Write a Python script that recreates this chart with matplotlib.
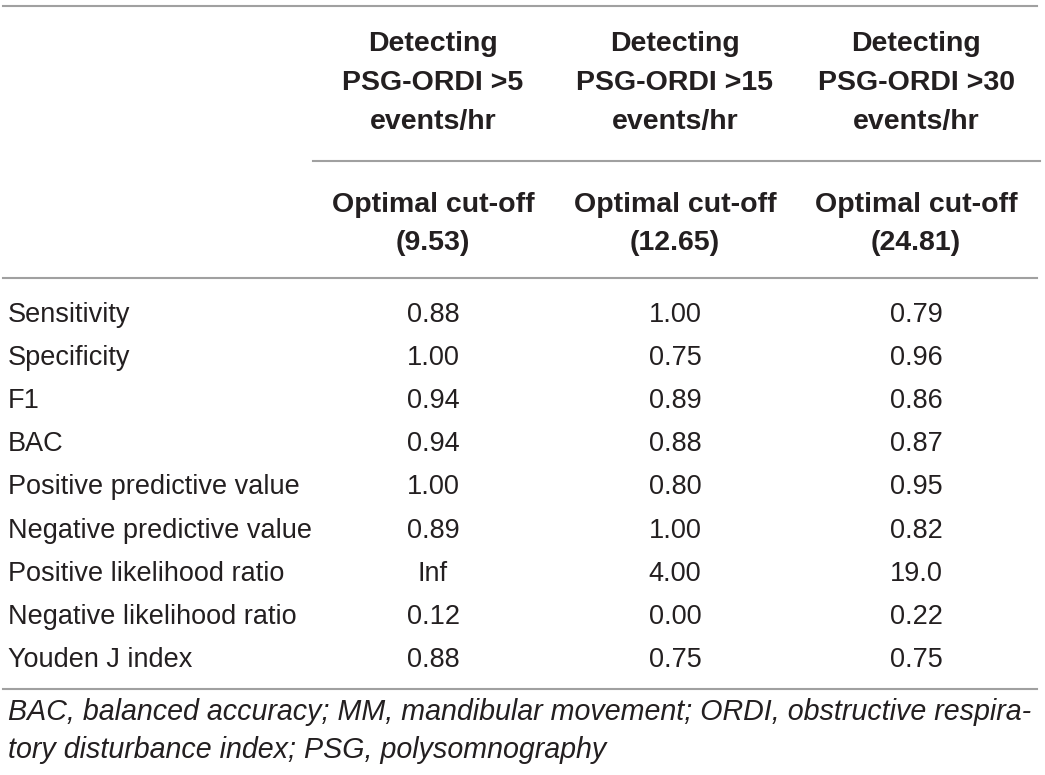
import matplotlib.pyplot as plt

# Dati della tabella
row_labels = ['Sensitivity', 'Specificity', 'F1', 'BAC', 'Positive predictive value',
              'Negative predictive value', 'Positive likelihood ratio',
              'Negative likelihood ratio', 'Youden J index']
col_top = [['Detecting', 'PSG-ORDI >5', 'events/hr'],
           ['Detecting', 'PSG-ORDI >15', 'events/hr'],
           ['Detecting', 'PSG-ORDI >30', 'events/hr']]
col_sub = [['Optimal cut-off', '(9.53)'],
           ['Optimal cut-off', '(12.65)'],
           ['Optimal cut-off', '(24.81)']]
vals_5 = ['0.88', '1.00', '0.94', '0.94', '1.00', '0.89', 'Inf', '0.12', '0.88']
vals_15 = ['1.00', '0.75', '0.89', '0.88', '0.80', '1.00', '4.00', '0.00', '0.75']
vals_30 = ['0.79', '0.96', '0.86', '0.87', '0.95', '0.82', '19.0', '0.22', '0.75']
footnote = ['BAC, balanced accuracy; MM, mandibular movement; ORDI, obstructive respira-',
            'tory disturbance index; PSG, polysomnography']

W, H = 1045, 775
plt.rcParams['font.family'] = ['Liberation Sans', 'DejaVu Sans']
TXT = '#231f20'

fig = plt.figure(figsize=(W / 100, H / 100), dpi=100)
ax = fig.add_axes([0, 0, 1, 1])
ax.set_xlim(0, W)
ax.set_ylim(H, 0)
ax.axis('off')

# linee orizzontali
line_col = '#a0a0a0'
ax.plot([3, 1037], [6, 6], color=line_col, lw=1.5)
ax.plot([313, 1040], [161, 161], color=line_col, lw=1.5)
ax.plot([3, 1037], [278, 278], color=line_col, lw=1.5)
ax.plot([3, 1037], [689, 689], color=line_col, lw=1.5)

# intestazioni
col_x = [433, 675, 916]
for x, top, sub in zip(col_x, col_top, col_sub):
    for j, s in enumerate(top):
        ax.text(x, 51 + j * 39, s, ha='center', va='baseline', fontsize=20.5,
                fontweight='bold', color=TXT)
    for j, s in enumerate(sub):
        ax.text(x, 212 + j * 38.5, s, ha='center', va='baseline', fontsize=20.5,
                fontweight='bold', color=TXT)

# righe
row_y0, row_dy = 322, 43.1
for i, lab in enumerate(row_labels):
    y = row_y0 + i * row_dy
    ax.text(8, y, lab, ha='left', va='baseline', fontsize=19.5, color=TXT)
    for x, v in zip(col_x, (vals_5[i], vals_15[i], vals_30[i])):
        ax.text(x, y, v, ha='center', va='baseline', fontsize=19.5, color=TXT)

# nota
for j, s in enumerate(footnote):
    ax.text(8, 720 + j * 38, s, ha='left', va='baseline', fontsize=20.6,
            style='italic', color=TXT)

fig.savefig('out.png', dpi=100)
